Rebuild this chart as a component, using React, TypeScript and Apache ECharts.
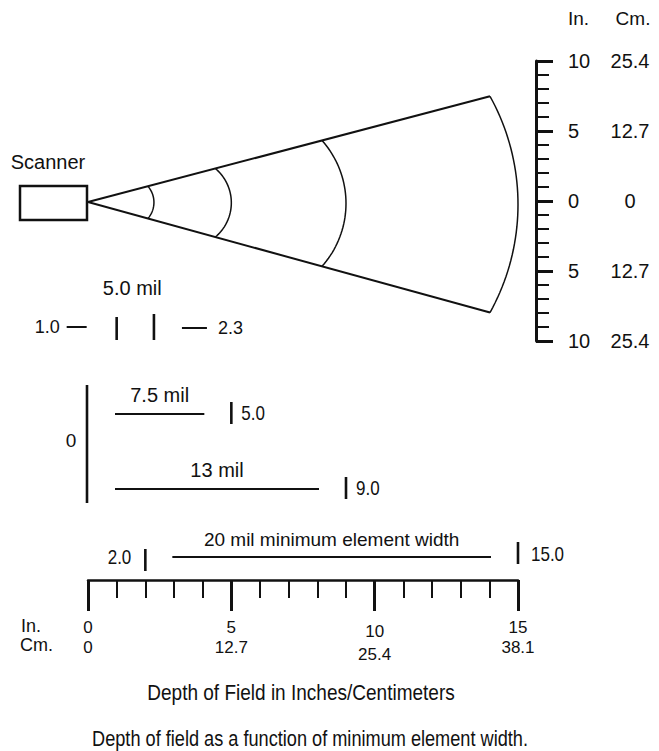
import React, { useEffect, useRef } from "react";
import * as echarts from "echarts";

// ---------- data ----------
const elementWidths = ["5.0 mil", "7.5 mil", "13 mil", "20 mil minimum element width"];
const nearInches = [1.0, 0, 0, 2.0];
const farInches = [2.3, 5.0, 9.0, 15.0];
const depthTickIn = [0, 5, 10, 15];
const depthTickCm = ["0", "12.7", "25.4", "38.1"];
const heightTickIn = ["10", "5", "0", "5", "10"];
const heightTickCm = ["25.4", "12.7", "0", "12.7", "25.4"];
const axisTitle = "Depth of Field in Inches/Centimeters";
const caption = "Depth of field as a function of minimum element width.";

// ---------- layout / style ----------
const REG = "'Liberation Sans', Arial, Helvetica, sans-serif";
const INK = "#111";
const ROW_Y = [327, 414, 489, 557];
const ROW_KIND = ["bracket", "zero", "zero", "span"];
const INSET = 27;
const APEX_Y = 202;
const SLOPE_UP = 0.263;
const SLOPE_DN = 0.275;
const ARC_BULGE = [6, 16, 24, 28];

function txt(x: number, y: number, text: string, align: string, size: number, scaleX = 1) {
  return {
    type: "text",
    x,
    y,
    scaleX,
    style: { text, fill: INK, font: `${size}px ${REG}`, textAlign: align, textVerticalAlign: "middle" },
  };
}
function seg(x1: number, y1: number, x2: number, y2: number, w: number) {
  return { type: "line", shape: { x1, y1, x2, y2 }, style: { stroke: INK, lineWidth: w } };
}

function renderBeam(params: any, api: any) {
  const i = params.dataIndex;
  const far = api.value(0);
  const apexX = api.coord([0, 0])[0];
  const px = api.coord([far, 0])[0];
  const b = ARC_BULGE[i];
  const xs = px - b;
  const d = xs - apexX;
  const yU = APEX_Y - SLOPE_UP * d;
  const yL = APEX_Y + SLOPE_DN * d;
  const h = (yL - yU) / 2;
  const ym = (yU + yL) / 2;
  const R = (h * h + b * b) / (2 * b);
  const cx = px - R;
  const phi = Math.asin(h / R);
  const pts: number[][] = [];
  const N = 40;
  for (let k = 0; k <= N; k++) {
    const t = -phi + (2 * phi * k) / N;
    pts.push([cx + R * Math.cos(t), ym + R * Math.sin(t)]);
  }
  const children: any[] = [
    { type: "polyline", shape: { points: pts }, style: { stroke: INK, lineWidth: 1.5, fill: "none" } },
  ];
  if (i === farInches.length - 1) {
    children.push(seg(apexX, APEX_Y, xs, yU, 2));
    children.push(seg(apexX, APEX_Y, xs, yL, 2));
  }
  return { type: "group", children };
}

function renderRange(params: any, api: any) {
  const i = params.dataIndex;
  const near = api.value(0);
  const far = api.value(1);
  const xn = api.coord([near, 0])[0];
  const xf = api.coord([far, 0])[0];
  const y = ROW_Y[i];
  const kind = ROW_KIND[i];
  const name = elementWidths[i];
  const children: any[] = [];
  if (kind === "bracket") {
    children.push(seg(xn, y - 10, xn, y + 13, 2.6));
    children.push(seg(xf, y - 13, xf, y + 13, 2.6));
    children.push(seg(xn - 50, y, xn - 30, y, 2));
    children.push(seg(xf + 28, y + 1, xf + 53, y + 1, 2));
    children.push(txt(xn - 57, y, near.toFixed(1), "right", 18));
    children.push(txt(xf + 64, y + 1, far.toFixed(1), "left", 18));
    children.push(txt((xn + xf) / 2 - 3, y - 39, name, "center", 20));
  } else if (kind === "zero") {
    const x1 = xn + INSET;
    const x2 = xf - INSET;
    children.push(seg(x1, y, x2, y, 2));
    children.push(seg(xf, y - 12, xf, y + 10, 2.6));
    children.push(txt(xf + 10, y - 1, far.toFixed(1), "left", 20, 0.85));
    children.push(txt((x1 + x2) / 2, y - 19, name, "center", 20));
  } else {
    const x1 = xn + INSET;
    const x2 = xf - INSET;
    children.push(seg(xn, y - 8, xn, y + 14, 2.6));
    children.push(seg(xf, y - 15, xf, y + 7, 2.6));
    children.push(seg(x1, y, x2, y, 2));
    children.push(txt(xn - 14, y, near.toFixed(1), "right", 20, 0.85));
    children.push(txt(xf + 13, y - 3, far.toFixed(1), "left", 20, 0.85));
    children.push(txt((x1 + x2) / 2, y - 18, name, "center", 19));
  }
  return { type: "group", children };
}

function renderZero(params: any, api: any) {
  const x = api.coord([api.value(0), 0])[0] - 1;
  return {
    type: "group",
    children: [seg(x, 385, x, 503, 2.6), txt(x - 16, 440, String(api.value(0)), "center", 19)],
  };
}

const zeroStarts = nearInches.filter((v) => v === 0).slice(0, 1).map((v) => [v]);

const option: any = {
  animation: false,
  backgroundColor: "#fff",
  grid: [
    { left: 88, top: 20, width: 430, height: 560 },
    { left: 536, top: 61, width: 1, height: 280 },
  ],
  xAxis: [
    {
      gridIndex: 0,
      type: "value",
      min: 0,
      max: 15,
      interval: 5,
      position: "bottom",
      axisLine: { show: true, lineStyle: { color: INK, width: 2.5 } },
      axisTick: { show: true, length: 31, lineStyle: { color: INK, width: 3 } },
      minorTick: { show: true, splitNumber: 5, length: 18, lineStyle: { color: INK, width: 2 } },
      splitLine: { show: false },
      minorSplitLine: { show: false },
      axisLabel: {
        margin: 37,
        verticalAlign: "top",
        formatter: (v: number) => {
          const i = depthTickIn.indexOf(v);
          const s = i === 2 ? "2" : "";
          return `{i${s}|${v}}\n{c${s}|${depthTickCm[i]}}`;
        },
        rich: {
          i: { fontFamily: REG, fontSize: 17, lineHeight: 20, color: INK },
          c: { fontFamily: REG, fontSize: 17, lineHeight: 20, color: INK },
          i2: { fontFamily: REG, fontSize: 17, lineHeight: 28, color: INK },
          c2: { fontFamily: REG, fontSize: 17, lineHeight: 18, color: INK },
        },
      },
    },
    { gridIndex: 1, type: "value", show: false, min: 0, max: 1 },
  ],
  yAxis: [
    { gridIndex: 0, type: "value", show: false, min: 0, max: 1 },
    {
      gridIndex: 1,
      type: "value",
      min: -10,
      max: 10,
      interval: 5,
      position: "left",
      axisLine: { show: true, lineStyle: { color: INK, width: 3 } },
      axisTick: { show: true, inside: true, length: 17, lineStyle: { color: INK, width: 3 } },
      minorTick: { show: true, splitNumber: 5, length: 13, lineStyle: { color: INK, width: 2 } },
      splitLine: { show: false },
      minorSplitLine: { show: false },
      axisLabel: {
        inside: true,
        margin: 32,
        formatter: (v: number) => {
          const i = Math.round((10 - v) / 5);
          return `{a|${heightTickIn[i]}}{b|${heightTickCm[i]}}`;
        },
        rich: {
          a: { fontFamily: REG, fontSize: 20, color: INK, width: 41, align: "left" },
          b: { fontFamily: REG, fontSize: 20, color: INK, width: 42, align: "center" },
        },
      },
    },
  ],
  graphic: [
    { type: "rect", shape: { x: 20, y: 186, width: 67, height: 34 }, style: { fill: "#fff", stroke: INK, lineWidth: 2.5 } },
    txt(48, 162, "Scanner", "center", 20),
    txt(21, 626, "In.", "left", 18),
    txt(20, 645, "Cm.", "left", 18),
    txt(568, 18, "In.", "left", 19),
    txt(633, 18, "Cm.", "center", 19),
    txt(301, 692, axisTitle, "center", 22, 0.865),
    txt(310, 738, caption, "center", 22, 0.826),
  ],
  series: [
    {
      type: "custom",
      name: "beam",
      xAxisIndex: 0,
      yAxisIndex: 0,
      silent: true,
      renderItem: renderBeam,
      data: farInches.map((v) => [v]),
    },
    {
      type: "custom",
      name: "ranges",
      xAxisIndex: 0,
      yAxisIndex: 0,
      silent: true,
      renderItem: renderRange,
      data: elementWidths.map((_, i) => [nearInches[i], farInches[i]]),
    },
    {
      type: "custom",
      name: "zero",
      xAxisIndex: 0,
      yAxisIndex: 0,
      silent: true,
      renderItem: renderZero,
      data: zeroStarts,
    },
  ],
};

export default function App() {
  const ref = useRef<HTMLDivElement>(null);
  useEffect(() => {
    const chart = echarts.init(ref.current!, null, { renderer: "svg" });
    chart.setOption(option);
    return () => chart.dispose();
  }, []);
  return (
    <div
      ref={ref}
      style={{ position: "absolute", left: 0, top: 0, width: 659, height: 751, background: "#fff" }}
    />
  );
}
